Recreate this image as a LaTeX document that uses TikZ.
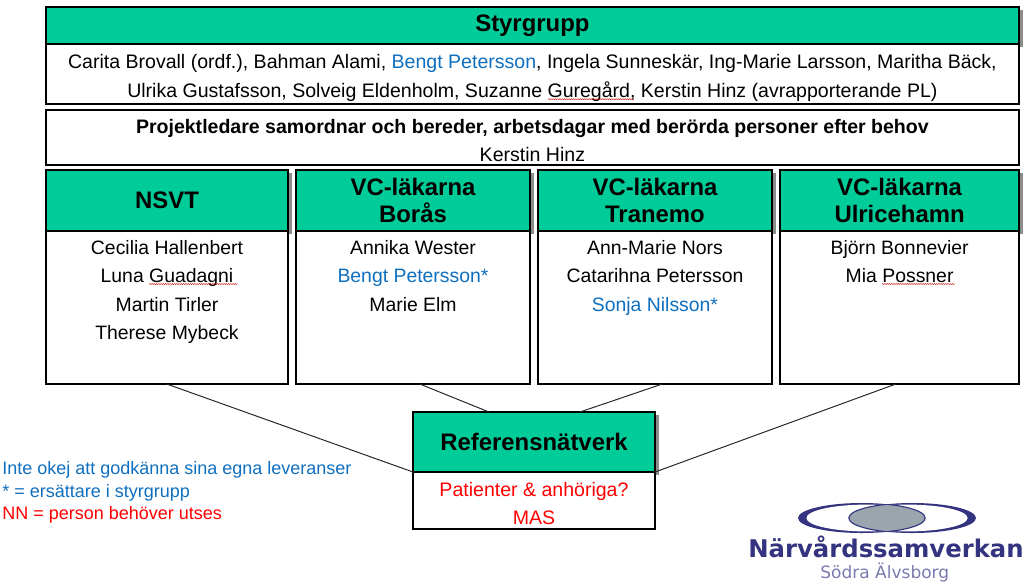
\documentclass[tikz,border=0pt]{standalone}
\usepackage{fontspec}
\setmainfont{Liberation Sans}
\newfontfamily\logofont{DejaVu Sans}
\usetikzlibrary{shadows}
\usetikzlibrary{decorations.pathmorphing}
\definecolor{headgreen}{HTML}{00CC99}
\definecolor{petblue}{HTML}{0F6FBF}
\definecolor{logonavy}{HTML}{333380}
\definecolor{logogrey}{HTML}{9AA5AD}
\definecolor{logolight}{HTML}{7A7AB0}
\newcommand{\lowerfirst}[1]{\rule{0pt}{#1}}
\begin{document}
\begin{tikzpicture}[
  head/.style={rectangle,draw=black,line width=1.3pt,fill=headgreen,inner sep=0pt,outer sep=0pt,align=center,
    font=\fontsize{17}{19.2}\selectfont\bfseries,
    drop shadow={shadow xshift=2.5pt,shadow yshift=-2pt,fill=black!45,opacity=1}},
  bodybox/.style={rectangle,draw=black,line width=1.3pt,fill=white,inner sep=0pt,outer sep=0pt,align=center,
    font=\fontsize{13.9}{20}\selectfont},
  names/.style={anchor=north,inner sep=0pt,align=center,font=\fontsize{13.8}{20.2}\selectfont},
  notes/.style={anchor=west,inner sep=0pt,align=left,font=\fontsize{12.8}{16.1}\selectfont},
  link/.style={draw=black!85,line width=0.7pt},
  squiggle/.style={draw=red!75!black,line width=0.3pt,decorate,decoration={snake,amplitude=0.35pt,segment length=1.6pt}}]
\useasboundingbox (0, 0) rectangle (25.6, -14.6);
% top boxes
\node at (13.31, -0.64) (styr) [head,minimum width=24.33cm,minimum height=0.925cm] {Styrgrupp};
\node at (13.31, -1.85) (styrbody) [bodybox,minimum width=24.33cm,minimum height=1.5cm]
  {\lowerfirst{15.6pt}Carita Brovall (ordf.), Bahman Alami, \textcolor{petblue}{Bengt Petersson}, Ingela Sunneskär, Ing-Marie Larsson, Maritha Bäck,\\
   Ulrika Gustafsson, Solveig Eldenholm, Suzanne Guregård, Kerstin Hinz (avrapporterande PL)};
\node at (13.31, -3.44) (proj) [bodybox,minimum width=24.33cm,minimum height=1.375cm]
  {\lowerfirst{14.2pt}\textbf{Projektledare samordnar och bereder, arbetsdagar med berörda personer efter behov}\\[0.4pt]Kerstin Hinz};
% columns
\node at ( 4.175, -5.01) (nsvt) [head,minimum width=6.05cm,minimum height=1.525cm] {NSVT};
\node at (10.325, -5.01) (boras) [head,minimum width=5.85cm,minimum height=1.525cm] {VC-läkarna\\Borås};
\node at (16.375, -5.01) (tranemo) [head,minimum width=5.85cm,minimum height=1.525cm] {VC-läkarna\\Tranemo};
\node at (22.49, -5.01) (ulricehamn) [head,minimum width=5.975cm,minimum height=1.525cm] {VC-läkarna\\Ulricehamn};
\node at ( 4.175, -7.69) (nsvtbody) [bodybox,minimum width=6.05cm,minimum height=3.825cm] {};
\node at (10.325, -7.69) (borasbody) [bodybox,minimum width=5.85cm,minimum height=3.825cm] {};
\node at (16.375, -7.69) (tranemobody) [bodybox,minimum width=5.85cm,minimum height=3.825cm] {};
\node at (22.49, -7.69) (ulricehamnbody) [bodybox,minimum width=5.975cm,minimum height=3.825cm] {};
\node at ( 4.175, -6.0) (nsvtnames) [names] {Cecilia Hallenbert\\Luna Guadagni\\Martin Tirler\\Therese Mybeck};
\node at (10.325, -6.0) (borasnames) [names] {Annika Wester\\\textcolor{petblue}{Bengt Petersson*}\\Marie Elm};
\node at (16.375, -6.0) (tranemonames) [names] {Ann-Marie Nors\\Catarihna Petersson\\\textcolor{petblue}{Sonja Nilsson*}};
\node at (22.49, -6.0) (ulricehamnnames) [names] {Björn Bonnevier\\Mia Possner};
% reference group
\node at (13.35, -11.05) (ref) [head,minimum width=6.05cm,minimum height=1.5cm] {Referensnätverk};
\node at (13.35, -12.51) (refbody) [bodybox,minimum width=6.05cm,minimum height=1.425cm] {\lowerfirst{14.2pt}\textcolor{red}{Patienter \& anhöriga?}\\\textcolor{red}{MAS}};
\draw [link] (nsvtbody.south) -- (ref.south west);
\draw [link] ([xshift=0.175cm]borasbody.south) -- ([xshift=-1.125cm]ref.north);
\draw [link] ([xshift=0.175cm]tranemobody.south) -- ([xshift=1.15cm]ref.north);
\draw [link] ([xshift=-0.1cm]ulricehamnbody.south) -- (ref.south east);
% notes
\node at (0.05, -12.31) (notes) [notes] {\textcolor{petblue}{Inte okej att godkänna sina egna leveranser}\\\textcolor{petblue}{* = ersättare i styrgrupp}\\\textcolor{red}{NN = person behöver utses}};
% spelling marks
\foreach \xa/\xb/\y in {13.7/15.85/-2.48, 3.73/5.95/-7.1, 22.05/23.87/-7.1}
  \draw [squiggle] (\xa, \y) -- (\xb, \y);
% logo
\fill [logonavy] (21.54, -12.95) ellipse (1.59 and 0.375);
\fill [white] (21.66, -12.95) ellipse (1.5 and 0.335);
\fill [logonavy] (22.81, -12.95) ellipse (1.59 and 0.375);
\fill [white] (22.69, -12.95) ellipse (1.5 and 0.335);
\begin{scope}
\clip (21.54, -12.95) ellipse (1.59 and 0.375);
\draw [fill=logogrey,draw=logonavy,line width=0.8pt] (22.81, -12.95) ellipse (1.59 and 0.375);
\end{scope}
\begin{scope}
\clip (22.81, -12.95) ellipse (1.59 and 0.375);
\draw [draw=logonavy,line width=0.8pt] (21.54, -12.95) ellipse (1.59 and 0.375);
\end{scope}
\node at (22.15, -13.68) (logoname) [inner sep=0pt,text=logonavy,font=\logofont\fontsize{17.3}{20}\selectfont\bfseries] {Närvårdssamverkan};
\node at (22.12, -14.32) (logosub) [inner sep=0pt,text=logolight,font=\logofont\fontsize{12.1}{14}\selectfont] {Södra Älvsborg};
\end{tikzpicture}
\end{document}
